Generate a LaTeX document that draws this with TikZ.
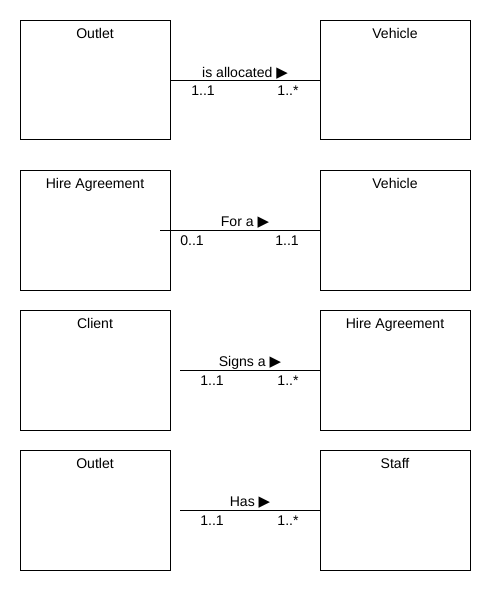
\documentclass[tikz,border=0pt]{standalone}
\usepackage{fontspec}
\setmainfont{Liberation Sans}
\newfontfamily\symfont{DejaVu Sans}
\usetikzlibrary{positioning,calc}
\newcommand{\dirarrow}{{\symfont\fontsize{8.5}{9}\selectfont ▶}}

\begin{document}
\begin{tikzpicture}[x=0.02cm,y=-0.02cm,line width=.55pt,font=\fontsize{8}{9}\selectfont,
  class/.style={draw,minimum width=3cm,minimum height=2.4cm,inner sep=0pt},
  title/.style={inner sep=0pt,anchor=center,text height=1.6ex,text depth=.3ex},
  mult/.style={inner sep=0pt,anchor=center,text height=1.6ex,text depth=.3ex}]
\useasboundingbox (0,0) rectangle (490,590);
% class boxes
\node[class] (outlet)  at (95,80) {};   \node[class] (vehicle)  at (395,80) {};
\node[class] (hire)    at (95,230) {};  \node[class] (vehicleb) at (395,230) {};
\node[class] (client)  at (95,370) {};  \node[class] (hireb)    at (395,370) {};
\node[class] (outletb) at (95,510) {};  \node[class] (staff)    at (395,510) {};
% class names
\foreach \n/\t in {outlet/Outlet,vehicle/Vehicle,hire/Hire Agreement,vehicleb/Vehicle,
  client/Client,hireb/Hire Agreement,outletb/Outlet,staff/Staff}
  \node[title] (\n-name) at ($(\n.north)+(0,13)$) {\t};
% associations
\draw (outlet.east) -- (vehicle.west);
\draw ($(hire.east)+(-10,0)$) -- (vehicleb.west);
\draw ($(client.east)+(10,0)$) -- (hireb.west);
\draw ($(outletb.east)+(10,0)$) -- (staff.west);
% association names
\node[title] (allocated) at (245,71) {is allocated \dirarrow};
\node[title] (fora)      at (245,220) {For a \dirarrow};
\node[title] (signs)     at (250,360) {Signs a \dirarrow};
\node[title] (has)       at (250,500) {Has \dirarrow};
% multiplicities
\node[mult] (m1a) at (203,89) {1..1};  \node[mult] (m1b) at (288,89) {1..*};
\node[mult] (m2a) at (192,239) {0..1}; \node[mult] (m2b) at (287,239) {1..1};
\node[mult] (m3a) at (212,379) {1..1}; \node[mult] (m3b) at (288,379) {1..*};
\node[mult] (m4a) at (212,519) {1..1}; \node[mult] (m4b) at (288,519) {1..*};
\end{tikzpicture}
\end{document}
